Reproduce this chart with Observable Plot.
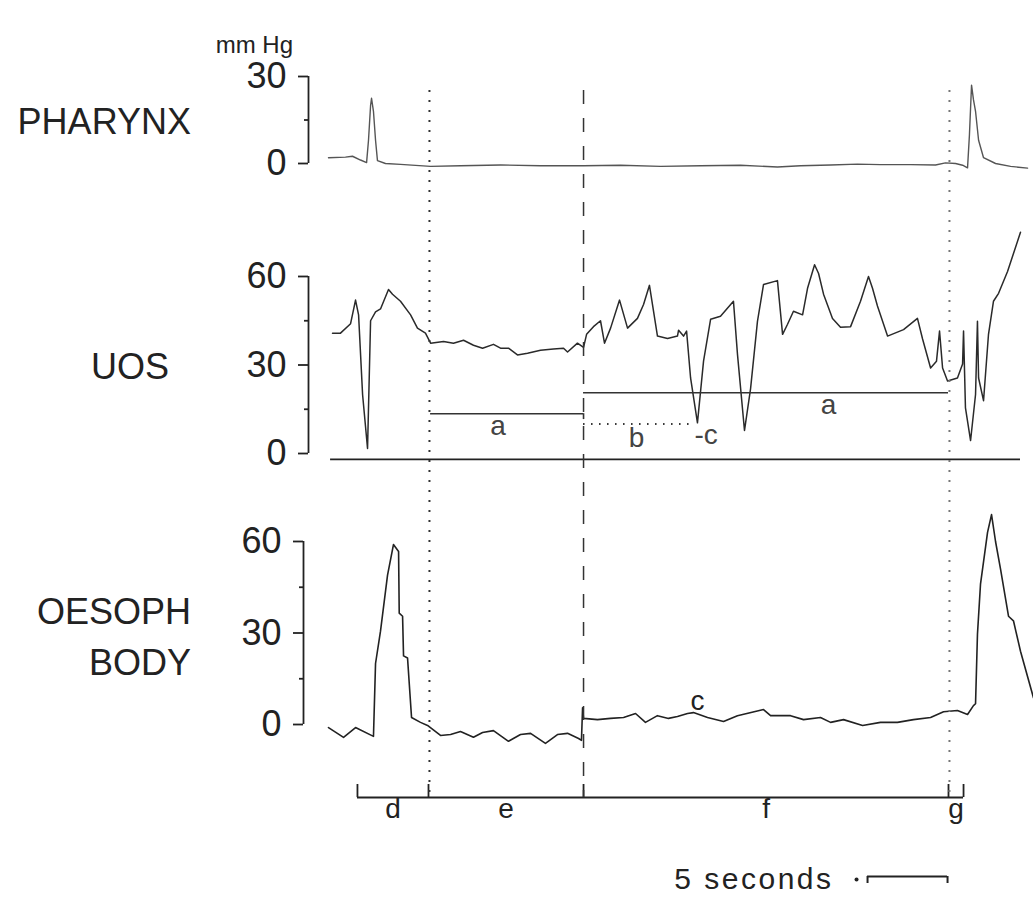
<!DOCTYPE html>
<html><head><meta charset="utf-8">
<script src="https://cdn.jsdelivr.net/npm/d3@7"></script>
<script src="https://cdn.jsdelivr.net/npm/@observablehq/plot@0.6"></script>
<style>
html,body{margin:0;padding:0;background:#fff;overflow:hidden;}
#fig{position:relative;width:1033px;height:908px;font-family:'Liberation Sans',Arial,Helvetica,sans-serif;color:#222;overflow:hidden;}
#fig svg{position:absolute;left:0;overflow:visible;background:transparent;}
.lbl{position:absolute;line-height:1;white-space:nowrap;color:#222;}
</style></head><body><div id="fig"></div>
<script>
// ---------------- data (time in seconds, pressure in mm Hg) ----------------
const pharynxT = [0,1.06,1.5,2.0,2.38,2.5,2.63,2.69,2.81,2.94,3.06,3.56,4.5,6.38,8.25,10.75,13.25,15.94,18.25,20.75,23.25,25.75,28.06,29.5,31.38,33.06,34.5,36.38,37.94,38.56,39.19,39.63,39.94,40.06,40.19,40.31,40.44,40.63,40.94,41.69,42.63,43.69];
const pharynxV = [2,2.2,2.5,1.2,0.3,8,20,22.5,18,8,1,0,-0.3,-1,-0.8,-0.5,-0.8,-0.8,-0.6,-1,-0.8,-0.6,-1.2,-0.8,-0.5,-0.2,-0.4,-0.4,-0.5,0.2,0,-0.6,-1.5,10,27,22,18,8,2,0,-1,-1.6];

const uosT = [0.25,0.75,1.38,1.69,1.88,2.13,2.44,2.63,2.94,3.25,3.75,4.0,4.5,5.13,5.56,6.06,6.38,7.19,7.81,8.44,9.06,9.63,10.31,10.75,11.25,11.81,12.44,13.25,14.06,14.69,14.94,15.56,15.94,16.13,16.56,17.0,17.25,17.63,18.19,18.69,19.31,19.69,20.06,20.56,21.19,21.81,21.88,22.19,22.38,22.63,23.06,23.44,23.88,24.5,25.31,25.56,26.0,26.38,26.81,27.19,28.06,28.38,28.69,29.06,29.63,29.94,30.38,30.63,30.94,31.5,32.0,32.63,33.25,33.75,34.0,34.31,34.94,35.94,36.81,37.13,37.63,38.0,38.19,38.38,38.69,39.31,39.63,39.69,39.81,40.13,40.44,40.56,40.63,40.94,41.25,41.56,41.88,42.44,43.25];
const uosV = [40.8,40.8,44,52,47,20,1.7,45,48,49,55.6,54,51.6,47,42.5,40.8,37.4,38,37.4,38.4,36.7,35.7,37,35.7,35.7,33.4,34,35,35.4,35.7,34.4,37.4,36,40.4,43,45,37.4,42.5,52,42.5,45.8,50.5,57,39.8,39,39.8,41.8,39.8,41.5,25.6,10.4,31.3,45.5,46.5,51.6,33.7,7.8,22,44.8,57.3,58.6,40.4,43.8,48.2,47,56,64,61,54,45.8,42.8,43,51.6,60,56,50,39.8,42,45.8,38.8,29,31.3,41.5,29,24.6,25.6,30.3,41.5,15.5,4.4,20,44.8,25.6,17.9,40.4,51.6,54.3,61.7,75];

const oesT = [0,0.94,1.69,2.81,2.94,3.25,3.69,4.06,4.38,4.42,4.63,4.69,4.94,5.19,5.75,6.19,7.0,7.63,8.25,9.06,9.63,10.31,11.25,12.0,12.63,13.56,14.31,14.94,15.63,15.81,15.88,15.94,16.81,17.63,18.44,19.19,19.81,20.56,21.25,21.81,22.44,22.81,23.69,24.69,25.56,27.19,27.63,28.88,29.69,30.75,31.38,32.19,33.38,34.5,35.56,36.56,37.63,38.44,39.31,39.94,40.31,40.44,40.56,40.75,41.19,41.44,41.69,42.0,42.5,42.81,43.25,44.06];
const oesV = [-1,-4.2,-1,-3.9,20,30.6,49,59,56.7,36.5,35.5,22.5,21.8,2.3,0.7,-0.3,-3.6,-3.3,-2.3,-4.2,-2.6,-2.0,-5.5,-3.3,-2.9,-6.2,-3.3,-2.9,-4.6,-5.2,5.5,2.0,1.6,2.0,2.3,3.6,0.7,2.9,2.0,2.6,3.6,3.9,2.3,1.0,2.9,4.9,2.9,2.9,1.6,2.3,0.7,1.6,-0.3,0.7,0.7,1.6,2.3,4.2,4.6,3.3,6.2,6.8,29.6,46,63,68.8,60,51,35.5,34,24,8.8];

// event markers (s): end of phase d, onset of phase f, onset of phase g
const markerT = [6.31, 15.94, 38.81];
// phase bar boundaries (s) and labels
const phaseBounds = [1.81, 6.25, 15.94, 38.75, 39.69];
const phaseLabels = ["d", "e", "f", "g"];
// UOS reference levels (mm Hg): a (phase e), a (phase f), b (dotted)
const uosRefT1 = [6.38, 15.94, 15.94];
const uosRefT2 = [15.94, 38.75, 22.6];
const uosRefV = [13.5, 20.6, 10];
const uosBaseT = [0.13, 43.25];
const uosBaseV = -2;
const uosLabelText = ["a", "b", "-c", "a"];
const uosLabelT = [10.6, 19.25, 23.6, 31.25];
const uosLabelV = [9.4, 5.4, 6.1, 16.5];
const oesLabelText = ["c"];
const oesLabelT = [23.06];
const oesLabelV = [7.6];
// scale bar
const scaleBarStart = 33.69;
const scaleBarSeconds = 5;
// axis ticks
const pharynxTicks = [0, 30], pharynxMinor = [15];
const uosTicks = [0, 30, 60], uosMinor = [15, 45];
const oesTicks = [0, 30, 60], oesMinor = [15, 45];

// ---------------- layout ----------------
const FONT = "'Liberation Sans', Arial, Helvetica, sans-serif";
const W = 1033, PX_PER_S = 16, T0_X = 328;
const X_MAX = (W - T0_X) / PX_PER_S;
const fig = document.getElementById("fig");
const zip = (t, v) => t.slice(0, Math.min(t.length, v.length)).map((ti, i) => ({t: ti, v: v[i]}));

function place(svg, top) { svg.style.top = top + "px"; svg.style.left = "0px"; fig.appendChild(svg); }
function xOpt(ml) { return {domain: [(ml - T0_X) / PX_PER_S, X_MAX], axis: null}; }

function panel({top, height, ml, yDomain, data, ticks, minor, stroke, sw, extra = []}) {
  const xmin = (ml - T0_X) / PX_PER_S;
  const svg = Plot.plot({
    width: W, height, marginLeft: ml, marginRight: 0, marginTop: 0, marginBottom: 0,
    x: xOpt(ml),
    y: {domain: yDomain, axis: null, label: null},
    style: {fontFamily: FONT, background: "transparent", overflow: "visible", color: "#222"},
    marks: [
      Plot.ruleX([xmin], {y1: ticks[0], y2: ticks[ticks.length - 1], stroke: "#222", strokeWidth: 1.8}),
      Plot.axisY({ticks, anchor: "left", tickSize: 10, tickPadding: 12, fontSize: 36, stroke: "#222", strokeWidth: 1.8, fill: "#222", label: null}),
      Plot.axisY({ticks: minor, anchor: "left", tickSize: 4, tickFormat: () => "", stroke: "#222", strokeWidth: 1.8, label: null}),
      Plot.line(data, {x: "t", y: "v", stroke, strokeWidth: sw, strokeLinejoin: "round"}),
      ...extra
    ]
  });
  place(svg, top);
}

// PHARYNX
panel({top: 60, height: 150, ml: 308, yDomain: [-16.21, 35.52], data: zip(pharynxT, pharynxV),
  ticks: pharynxTicks, minor: pharynxMinor, stroke: "#555", sw: 1.4});

// UOS
const uosRefs = uosRefT1.map((t1, i) => ({t1, t2: uosRefT2[i], v: uosRefV[i]}));
const uosLabels = uosLabelText.map((s, i) => ({s, t: uosLabelT[i], v: uosLabelV[i]}));
panel({top: 220, height: 260, ml: 308, yDomain: [-9.15, 78.98], data: zip(uosT, uosV),
  ticks: uosTicks, minor: uosMinor, stroke: "#2a2a2a", sw: 1.5,
  extra: [
    Plot.ruleY(uosRefs.slice(0, 2), {y: "v", x1: "t1", x2: "t2", stroke: "#333", strokeWidth: 1.6}),
    Plot.ruleX(uosRefs.slice(0, 1), {x: "t2", y1: "v", y2: d => d.v - 2, stroke: "#333", strokeWidth: 1.6}),
    Plot.ruleY(uosRefs.slice(2), {y: "v", x1: "t1", x2: "t2", stroke: "#333", strokeWidth: 2.2, strokeDasharray: "1.5,6.5"}),
    Plot.ruleY([uosBaseV], {x1: uosBaseT[0], x2: uosBaseT[1], stroke: "#222", strokeWidth: 1.8}),
    Plot.text(uosLabels, {x: "t", y: "v", text: "s", fontSize: 28, fill: "#444", fontFamily: FONT})
  ]});

// OESOPHAGEAL BODY
const oesLabels = oesLabelText.map((s, i) => ({s, t: oesLabelT[i], v: oesLabelV[i]}));
panel({top: 495, height: 275, ml: 303, yDomain: [-15.08, 75.08], data: zip(oesT, oesV),
  ticks: oesTicks, minor: oesMinor, stroke: "#222", sw: 1.6,
  extra: [Plot.text(oesLabels, {x: "t", y: "v", text: "s", fontSize: 28, fill: "#222", fontFamily: FONT})]});

// phase bar
const phaseMid = phaseLabels.map((s, i) => ({s, t: (phaseBounds[i] + phaseBounds[i + 1]) / 2}));
place(Plot.plot({
  width: W, height: 46, marginLeft: 308, marginRight: 0, marginTop: 0, marginBottom: 33,
  x: xOpt(308), y: {domain: [0, 1], axis: null},
  style: {fontFamily: FONT, background: "transparent", overflow: "visible", color: "#222"},
  marks: [
    Plot.ruleY([0], {x1: phaseBounds[0], x2: phaseBounds[phaseBounds.length - 1], stroke: "#222", strokeWidth: 1.8}),
    Plot.ruleX(phaseBounds, {stroke: "#222", strokeWidth: 1.8}),
    Plot.text(phaseMid, {x: "t", y: 0, text: "s", fontSize: 28, lineAnchor: "top", dy: 1, fill: "#222", fontFamily: FONT})
  ]
}), 784);

// event markers spanning all channels
place(Plot.plot({
  width: W, height: 707, marginLeft: 308, marginRight: 0, marginTop: 0, marginBottom: 0,
  x: xOpt(308),
  style: {background: "transparent", overflow: "visible"},
  marks: [
    Plot.ruleX(markerT.slice(0, 1), {stroke: "#333", strokeWidth: 2, strokeDasharray: "2,8"}),
    Plot.ruleX(markerT.slice(1, 2), {stroke: "#333", strokeWidth: 1.5, strokeDasharray: "14,14"}),
    Plot.ruleX(markerT.slice(2, 3), {stroke: "#777", strokeWidth: 2, strokeDasharray: "2,8"})
  ]
}), 90);

// scale bar
place(Plot.plot({
  width: W, height: 30, marginLeft: 308, marginRight: 0, marginTop: 0, marginBottom: 23,
  x: xOpt(308), y: {domain: [0, 1], axis: null},
  style: {fontFamily: FONT, background: "transparent", overflow: "visible", color: "#222", letterSpacing: "2.5px"},
  marks: [
    Plot.ruleY([1], {x1: scaleBarStart, x2: scaleBarStart + scaleBarSeconds, stroke: "#222", strokeWidth: 2}),
    Plot.ruleX([scaleBarStart, scaleBarStart + scaleBarSeconds], {stroke: "#222", strokeWidth: 2}),
    Plot.dot([scaleBarStart], {x: d => d, y: 1, dx: -11, dy: 3, r: 2, fill: "#222", stroke: null}),
    Plot.text([`${scaleBarSeconds} seconds`], {x: scaleBarStart, y: 1, dx: -34, dy: 3, textAnchor: "end", fontSize: 30, fill: "#222", fontFamily: FONT})
  ]
}), 876);

// channel labels and unit
function label(text, right, centerY, size) {
  const d = document.createElement("div");
  d.className = "lbl"; d.textContent = text;
  d.style.fontSize = size + "px";
  d.style.right = (W - right) + "px";
  d.style.top = (centerY - size * 0.5) + "px";
  fig.appendChild(d);
}
label("mm Hg", 293, 45, 24);
label("PHARYNX", 191, 122, 36);
label("UOS", 169, 367, 36);
label("OESOPH", 191, 612, 36);
label("BODY", 191, 663, 36);
</script></body></html>
